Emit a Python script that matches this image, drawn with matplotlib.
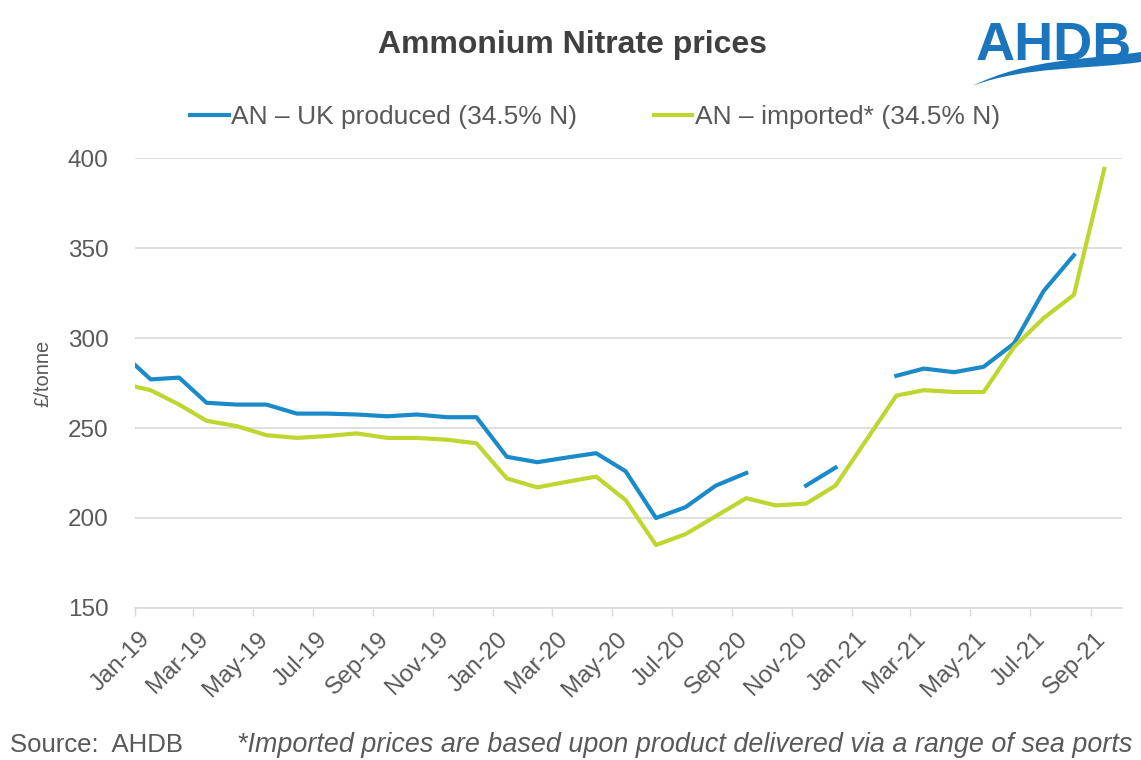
import numpy as np
import pandas as pd
import matplotlib
matplotlib.use('Agg')
import matplotlib.pyplot as plt
import matplotlib.dates as mdates
from matplotlib.path import Path
from matplotlib.patches import PathPatch
from matplotlib.transforms import ScaledTranslation

#-----------------------------------------------------------------------------
# Data (GBP/tonne)
#-----------------------------------------------------------------------------
dates = pd.to_datetime([
    '2019-01-01', '2019-01-17', '2019-02-15', '2019-03-15', '2019-04-15',
    '2019-05-15', '2019-06-15', '2019-07-15', '2019-08-15', '2019-09-15',
    '2019-10-15', '2019-11-15', '2019-12-15',
    '2020-01-15', '2020-02-15', '2020-03-15', '2020-04-15', '2020-05-15',
    '2020-06-15', '2020-07-15', '2020-08-15', '2020-09-15', '2020-10-15',
    '2020-11-15', '2020-12-15',
    '2021-01-15', '2021-02-15', '2021-03-15', '2021-04-15', '2021-05-15',
    '2021-06-15', '2021-07-15', '2021-08-15', '2021-09-15',
])

nan = np.nan
uk_produced = [285, 277, 278, 264, 263, 263, 258, 258, 257.5, 256.5, 257.5,
               256, 256,
               234, 231, 233.5, 236, 226, 200, 206, 218, 225, nan, 218, 228,
               nan, 279, 283, 281, 284, 297, 326, 346, nan]

imported = [273, 271, 263, 254, 251, 246, 244.5, 245.5, 247, 244.5, 244.5,
            243.5, 241.5,
            222, 217, 220, 223, 210, 185, 191, 201, 211, 207, 208, 218,
            243, 268, 271, 270, 270, 295, 311, 324, 394]

series_names = ['AN \u2013 UK produced (34.5% N)', 'AN \u2013 imported* (34.5% N)']
y_ticks = [150, 200, 250, 300, 350, 400]

#-----------------------------------------------------------------------------
# Style
#-----------------------------------------------------------------------------
plt.rcParams['font.family'] = ['Liberation Sans', 'DejaVu Sans']
grey = '#595959'
blue = '#1a8bc8'
lime = '#bfd630'

fig = plt.figure(figsize=(11.41, 7.6), dpi=100)
ax = fig.add_axes([135 / 1141, 1 - 608 / 760, (1122 - 135) / 1141, 450 / 760])

ax.plot(dates, uk_produced, color=blue, lw=3.0, solid_joinstyle='round',
        label=series_names[0])
ax.plot(dates, imported, color=lime, lw=3.0, solid_joinstyle='round',
        label=series_names[1])

ax.set_ylim(150, 400)
ax.set_yticks(y_ticks)
ax.set_xlim(pd.Timestamp('2019-01-01'), pd.Timestamp('2021-10-03'))
ax.xaxis.set_major_locator(mdates.MonthLocator(bymonth=[1, 3, 5, 7, 9, 11]))
ax.xaxis.set_major_formatter(mdates.DateFormatter('%b-%y'))

ax.grid(axis='y', color='#d9d9d9', lw=1.2)
ax.set_axisbelow(True)
for side in ['top', 'right', 'left']:
    ax.spines[side].set_visible(False)
ax.spines['bottom'].set_color('#d9d9d9')
ax.spines['bottom'].set_linewidth(1.2)

ax.tick_params(axis='y', length=0, pad=19, labelsize=17.5, labelcolor=grey)
ax.tick_params(axis='x', length=6, width=1, color='#d9d9d9', pad=4,
               labelsize=17.5, labelcolor=grey)

offset = ScaledTranslation(12 / 100, -14 / 100, fig.dpi_scale_trans)
for lab in ax.get_xticklabels():
    lab.set_rotation(45)
    lab.set_rotation_mode('anchor')
    lab.set_ha('right')
    lab.set_va('center')
    lab.set_transform(lab.get_transform() + offset)

fig.text(43 / 1141, 1 - 373 / 760, '\u00a3/tonne', rotation=90, fontsize=14.5,
         color=grey, ha='center', va='center')

# Title and legend
fig.text(572 / 1141, 1 - 45 / 760, 'Ammonium Nitrate prices', fontsize=23,
         fontweight='bold', color='#404040', ha='center', va='center')

fig.legend(loc='center', bbox_to_anchor=(595 / 1141, 1 - 117 / 760), ncol=2,
           frameon=False, fontsize=19, labelcolor=grey, handlelength=1.45,
           handletextpad=0.1, columnspacing=2.9)

# AHDB logo (text + swoosh)
fig.text(976 / 1141, 1 - 60 / 760, 'AHDB', fontsize=39, fontweight='bold',
         color='#1b75bc', ha='left', va='baseline')
W, H = 1141, 760
pts = [(972, 86), (1025, 66), (1085, 70), (1141, 62),
       (1141, 52), (1085, 60), (1030, 58), (972, 86)]
codes = [Path.MOVETO, Path.CURVE4, Path.CURVE4, Path.CURVE4,
         Path.LINETO, Path.CURVE4, Path.CURVE4, Path.CURVE4]
verts = [(x / W, 1 - y / H) for x, y in pts]
fig.patches.append(PathPatch(Path(verts, codes), transform=fig.transFigure,
                             facecolor='#1b75bc', edgecolor='none'))

# Footer
fig.text(10 / 1141, 1 - 745 / 760, 'Source:  AHDB', fontsize=18.5, color=grey,
         ha='left', va='center')
fig.text(237 / 1141, 1 - 745 / 760,
         '*Imported prices are based upon product delivered via a range of sea ports',
         fontsize=19.4, style='italic', color=grey, ha='left', va='center')

fig.savefig('out.png', dpi=100)
